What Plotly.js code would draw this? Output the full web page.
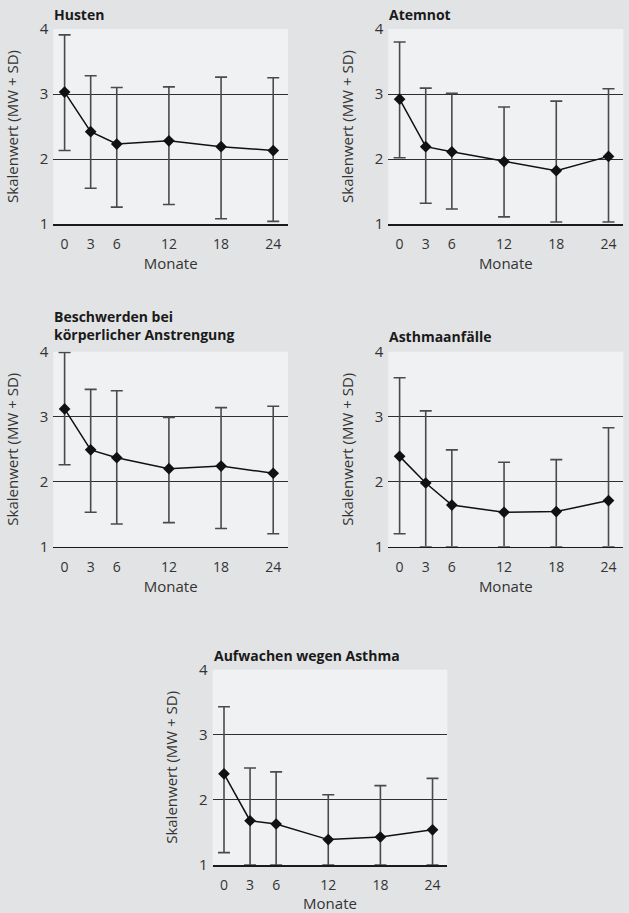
<!DOCTYPE html>
<html>
<head>
<meta charset="utf-8">
<script src="https://cdn.plot.ly/plotly-3.0.1.min.js"></script>
<style>html,body{margin:0;padding:0;background:#e2e3e5;}#chart{width:629px;height:913px;}</style>
</head>
<body>
<div id="chart"></div>
<script>
// Months
const months = [0, 3, 6, 12, 18, 24];
const tickLabels = ["0", "3", "6", "12", "18", "24"];
const yTicks = [1, 2, 3, 4];

// Panel titles
const titles = ["Husten", "Atemnot", "Beschwerden bei<br>körperlicher Anstrengung", "Asthmaanfälle", "Aufwachen wegen Asthma"];

// Means (MW)
const meanHusten = [3.03, 2.42, 2.23, 2.28, 2.19, 2.13];
const meanAtemnot = [2.92, 2.19, 2.11, 1.96, 1.82, 2.04];
const meanBeschwerden = [3.12, 2.49, 2.37, 2.20, 2.24, 2.13];
const meanAnfaelle = [2.39, 1.98, 1.64, 1.53, 1.54, 1.71];
const meanAufwachen = [2.40, 1.68, 1.63, 1.39, 1.43, 1.54];

// Upper ends of error bars (MW + SD)
const upperHusten = [3.91, 3.28, 3.10, 3.11, 3.26, 3.25];
const upperAtemnot = [3.80, 3.09, 3.01, 2.80, 2.89, 3.08];
const upperBeschwerden = [3.99, 3.42, 3.40, 2.99, 3.14, 3.16];
const upperAnfaelle = [3.60, 3.09, 2.49, 2.30, 2.34, 2.83];
const upperAufwachen = [3.43, 2.49, 2.43, 2.08, 2.22, 2.33];

// Lower ends of error bars (MW - SD, truncated at 1)
const lowerHusten = [2.13, 1.55, 1.26, 1.30, 1.08, 1.04];
const lowerAtemnot = [2.02, 1.32, 1.23, 1.11, 1.03, 1.03];
const lowerBeschwerden = [2.26, 1.53, 1.35, 1.37, 1.28, 1.20];
const lowerAnfaelle = [1.20, 1.00, 1.00, 1.00, 1.00, 1.00];
const lowerAufwachen = [1.19, 1.00, 1.00, 1.00, 1.00, 1.00];

const means = [meanHusten, meanAtemnot, meanBeschwerden, meanAnfaelle, meanAufwachen];
const uppers = [upperHusten, upperAtemnot, upperBeschwerden, upperAnfaelle, upperAufwachen];
const lowers = [lowerHusten, lowerAtemnot, lowerBeschwerden, lowerAnfaelle, lowerAufwachen];

const W = 629, H = 913;
// panel boxes in px: [left, right, top, bottom]
const boxes = [
  [53.3, 288, 29, 224],
  [388.3, 623.3, 29, 224],
  [53.3, 288, 351.7, 546.7],
  [388.3, 623.3, 351.7, 546.7],
  [212.7, 447.3, 669.7, 865]
];
const titleY = [15, 15, 326, 336.5, 655];

const FONT = "Open Sans, Noto Sans, sans-serif";
const traces = [];
const layout = {
  width: W, height: H,
  margin: {l: 0, r: 0, t: 0, b: 0},
  paper_bgcolor: "#e2e3e5",
  plot_bgcolor: "#f0f1f3",
  showlegend: false,
  font: {family: FONT, size: 14, color: "#2a2a2a"},
  annotations: []
};

for (let i = 0; i < 5; i++) {
  const n = i === 0 ? "" : String(i + 1);
  const b = boxes[i];
  const m = means[i];
  traces.push({
    type: "scatter", mode: "lines+markers",
    x: months, y: m,
    xaxis: "x" + n, yaxis: "y" + n,
    line: {color: "#111", width: 1.5},
    marker: {symbol: "diamond", size: 9, color: "#111"},
    error_y: {
      type: "data", symmetric: false,
      array: uppers[i].map((u, k) => u - m[k]),
      arrayminus: lowers[i].map((l, k) => m[k] - l),
      color: "#4a4a4a", thickness: 1.6, width: 6
    },
    cliponaxis: false
  });
  layout["xaxis" + n] = {
    domain: [b[0] / W, b[1] / W],
    anchor: "y" + n,
    range: [-1.3, 25.7],
    tickvals: months, ticktext: tickLabels,
    showgrid: false, zeroline: false,
    showline: true, linecolor: "#1a1a1a", linewidth: 1.6,
    ticks: "", ticklabelstandoff: 7,
    tickfont: {family: FONT, size: 14, color: "#333"},
    title: {text: "Monate", font: {family: FONT, size: 15, color: "#333"}, standoff: 2},
    fixedrange: true
  };
  layout["yaxis" + n] = {
    domain: [1 - b[3] / H, 1 - b[2] / H],
    anchor: "x" + n,
    range: [1, 4],
    tickvals: yTicks,
    showgrid: true, gridcolor: "#2e2e2e", gridwidth: 1,
    zeroline: false, showline: false,
    ticks: "", ticklabelstandoff: 4,
    tickfont: {family: FONT, size: 15, color: "#333"},
    title: {text: "Skalenwert (MW + SD)", font: {family: FONT, size: 15, color: "#333"}, standoff: 17},
    fixedrange: true
  };
  layout.annotations.push({
    text: "<b>" + titles[i] + "</b>",
    xref: "paper", yref: "paper",
    x: (b[0] - 1) / W, y: 1 - titleY[i] / H,
    xanchor: "left", yanchor: "middle", align: "left",
    showarrow: false,
    font: {family: FONT, size: 14, color: "#1a1a1a"}
  });
}

Plotly.newPlot("chart", traces, layout, {displayModeBar: false, staticPlot: true});
</script>
</body>
</html>
